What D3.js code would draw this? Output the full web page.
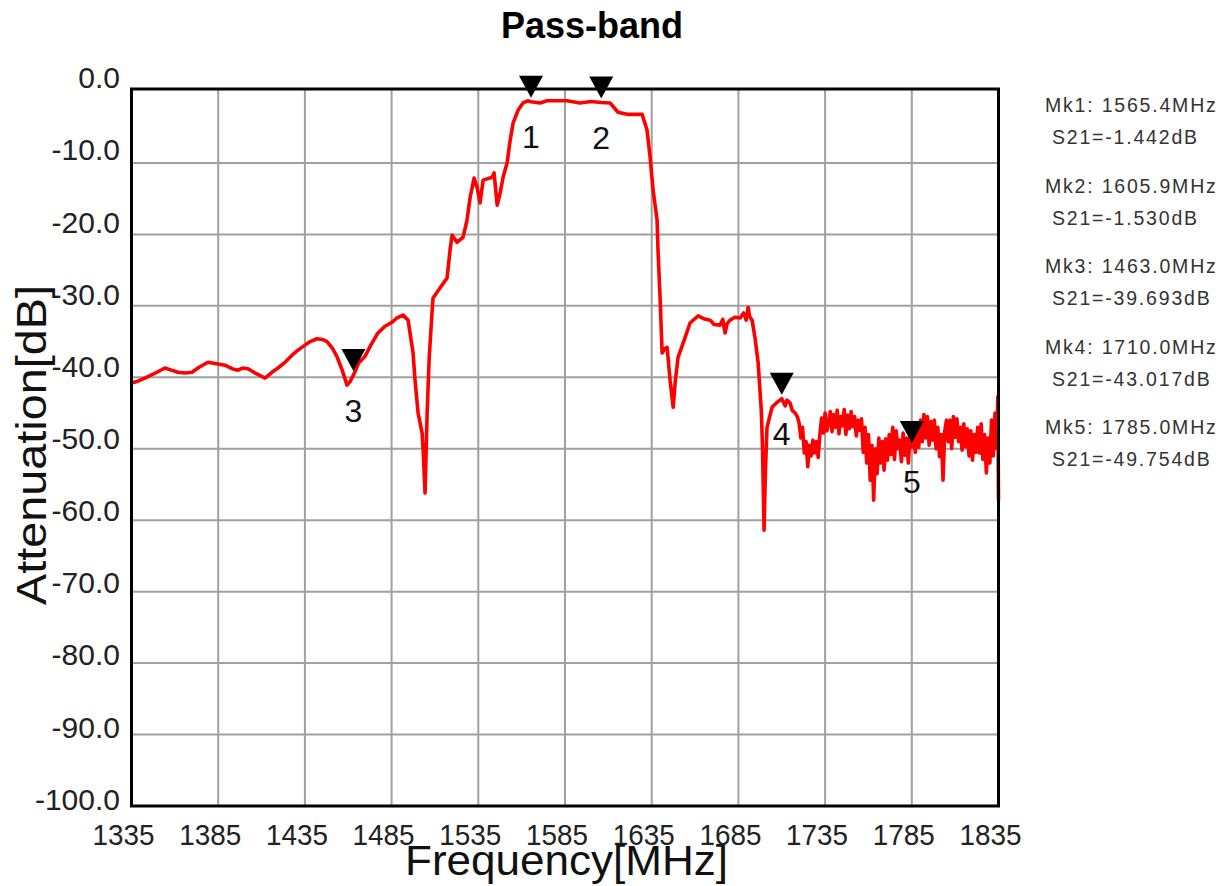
<!DOCTYPE html>
<html><head><meta charset="utf-8">
<script src="https://cdn.jsdelivr.net/npm/d3@7"></script>
<style>body{margin:0;background:#fff;} svg{display:block;}</style>
</head><body>
<svg id="c" width="1226" height="886"></svg>
<script>
const chartTitle = "Pass-band";
const xTitle = "Frequency[MHz]";
const yTitle = "Attenuation[dB]";
const freqTicks = [1335,1385,1435,1485,1535,1585,1635,1685,1735,1785,1835];
const dbTicks = [0,-10,-20,-30,-40,-50,-60,-70,-80,-90,-100];

const freqs = [
1335,1338,1342.8,1348,1354.3,1358,1361.8,1366,1369.9,1374,1379.1,1384,1388.9,1393,1396.4,1399,1402.2,1407,1412,1416,
1419.5,1424,1427.6,1431,1435.1,1438,1442,1445,1447.8,1451,1453.5,1456.5,1459.3,1461,1463,1466,1469.6,1473,1477.1,1481,
1485.2,1488,1491.6,1494.5,1497.4,1498.5,1500.3,1502.6,1503.2,1504.3,1505.5,1506.7,1508.3,1508.9,1512.9,1517.0,1518.7,1519.9,1522.7,1526.2,
1528.5,1530.3,1532.6,1534.3,1536.0,1537.8,1543.0,1544.1,1545.9,1547.6,1549.3,1551.6,1553.4,1555.1,1558.0,1560.8,1563.5,1565.4,1570.6,1574.7,
1586.2,1593.7,1600,1605.9,1611.0,1615.6,1620.8,1626.6,1629.5,1632.3,1634.1,1635.8,1638.1,1638.7,1639.9,1641.0,1642.5,1643.9,1645.6,1647.4,
1648.5,1650.2,1654.3,1657.1,1661.8,1665,1668.7,1671,1674.4,1676,1677.3,1678.5,1680.2,1683,1686.0,1688,1689.5,1690.6,1691.5,1692.9,
1694.6,1696.4,1698.2,1698.9,1699.8,1700.6,1701.5,1704.4,1707.3,1710.0,1712,1713,1714.8,1716,1717.7,1719,
1720,1721,1722,1723,1724,1725,1726,1727,1728,1729,1730,1731,1732,1733,1734,1735,1736,1737,1738,1739,
1740,1741,1742,1743,1744,1745,1746,1747,1748,1749,1750,1751,1752,1753,1754,1755,1756,1757,1758,1759,
1760,1761,1762,1763,1764,1765,1766,1767,1768,1769,1770,1771,1772,1773,1774,1775,1776,1777,1778,1779,
1780,1781,1782,1783,1784,1785,1786,1787,1788,1789,1790,1791,1792,1793,1794,1795,1796,1797,1798,1799,
1800,1801,1802,1803,1804,1805,1806,1807,1808,1809,1810,1811,1812,1813,1814,1815,1816,1817,1818,1819,
1820,1821,1822,1823,1824,1825,1826,1827,1828,1829,1830,1831,1832,1833,1834,1834.6,1835
];
const s21 = [
-40.8,-40.6,-40.1,-39.5,-38.7,-39.0,-39.3,-39.4,-39.3,-38.6,-37.9,-38.1,-38.3,-38.8,-39.0,-38.7,-38.8,-39.5,-40.1,-39.3,
-38.7,-37.8,-36.9,-36.2,-35.5,-35.0,-34.6,-34.7,-35.0,-36.0,-37.1,-39.0,-41.1,-40.6,-39.7,-38.0,-37.1,-35.5,-33.8,-32.9,
-32.3,-31.7,-31.3,-32.0,-36.6,-40.4,-45.0,-47.8,-50.2,-56.2,-45.0,-37.2,-31.0,-28.9,-27.5,-26.1,-22.2,-20.1,-21.1,-20.4,
-18.0,-14.8,-12.1,-13.4,-15.6,-12.4,-12.0,-11.4,-15.9,-14.2,-12.0,-10.0,-6.8,-4.4,-2.6,-1.6,-1.3,-1.44,-1.6,-1.3,
-1.3,-1.6,-1.4,-1.53,-1.6,-2.9,-3.2,-3.2,-3.2,-5.4,-9.2,-13.8,-18.0,-22.6,-29.2,-36.6,-36.0,-35.8,-40.4,-44.2,
-40.8,-37.2,-34.4,-32.4,-31.4,-31.8,-32.0,-32.6,-32.7,-31.9,-33.8,-32.5,-32.0,-31.6,-31.7,-31.0,-32.0,-30.2,-31.5,-32.0,
-34.5,-38.0,-44.6,-49.7,-61.4,-53.0,-47.0,-44.2,-43.5,-43.0,-44.0,-43.2,-43.6,-44.6,-45.0,-45.5,
-46.4,-48.5,-47.0,-50.6,-49.0,-52.5,-49.5,-51.0,-48.8,-50.6,-49.0,-51.2,-48.0,-45.7,-47.8,-45.0,-47.5,-46.4,-44.8,-47.6,
-45.2,-47.0,-44.6,-47.9,-45.5,-46.8,-44.5,-48.0,-45.3,-47.2,-44.8,-46.9,-45.5,-48.2,-46.0,-47.4,-45.8,-50.5,-47.0,-52.0,
-48.0,-54.4,-49.5,-57.2,-50.0,-53.5,-48.5,-52.0,-49.0,-53.0,-48.6,-51.6,-48.0,-50.8,-47.0,-51.5,-47.5,-50.0,-48.8,-51.8,
-47.8,-50.9,-48.5,-52.0,-48.0,-49.75,-47.5,-50.5,-46.5,-49.8,-46.0,-49.0,-45.2,-48.5,-45.5,-49.5,-46.2,-48.8,-46.0,-50.0,
-47.0,-51.1,-48.0,-54.4,-47.5,-46.0,-49.0,-46.0,-50.0,-45.5,-48.4,-45.8,-49.0,-47.0,-50.2,-46.5,-49.7,-47.2,-51.0,-47.5,
-51.6,-48.0,-50.5,-47.0,-50.6,-46.5,-51.5,-48.0,-53.4,-48.5,-52.0,-46.0,-51.0,-45.0,-50.0,-42.7,-57.2
];

const markerNames = ["1","2","3","4","5"];
const markerFreq = [1565.4, 1605.9, 1463.0, 1710.0, 1785.0];
const markerVal = [-1.442, -1.530, -39.693, -43.017, -49.754];
const legendTop = ["Mk1: 1565.4MHz","Mk2: 1605.9MHz","Mk3: 1463.0MHz","Mk4: 1710.0MHz","Mk5: 1785.0MHz"];
const legendBottom = ["S21=-1.442dB","S21=-1.530dB","S21=-39.693dB","S21=-43.017dB","S21=-49.754dB"];

const FONT = "'Liberation Sans', Arial, sans-serif";
const svg = d3.select("#c");
const x = d3.scaleLinear().domain([1335,1835]).range([131.5,998.5]);
const y = d3.scaleLinear().domain([0,-100]).range([91.5,806]);
const yLab = d3.scaleLinear().domain([0,-100]).range([77.5,799]);

// title
svg.append("text").attr("x",592).attr("y",38).attr("text-anchor","middle")
  .attr("font-family",FONT).attr("font-weight","bold").attr("font-size",36).attr("fill","#000").text(chartTitle);

// grid
const g = svg.append("g");
g.selectAll(".vg").data(freqTicks.slice(1,-1)).join("line")
  .attr("x1",d=>x(d)).attr("x2",d=>x(d)).attr("y1",y(0)-2).attr("y2",y(-100))
  .attr("stroke","#a0a0a0").attr("stroke-width",2);
g.selectAll(".hg").data(dbTicks.slice(1,-1)).join("line")
  .attr("y1",d=>y(d)).attr("y2",d=>y(d)).attr("x1",x(1335)).attr("x2",x(1835))
  .attr("stroke","#a0a0a0").attr("stroke-width",2);

// curve
const pts = freqs.map((f,i)=>[f,s21[i]]);
svg.append("path").datum(pts)
  .attr("d", d3.line().x(d=>x(d[0])).y(d=>y(d[1])))
  .attr("fill","none").attr("stroke","#ff0000").attr("stroke-width",3.6).attr("stroke-linejoin","round");

// frame
svg.append("rect").attr("x",x(1335)).attr("y",y(0)-2.5)
  .attr("width",x(1835)-x(1335)).attr("height",y(-100)-y(0)+2.5)
  .attr("fill","none").attr("stroke","#000").attr("stroke-width",3);

// tick labels
svg.selectAll(".yl").data(dbTicks).join("text")
  .attr("x",120).attr("y",d=>yLab(d)+10.7).attr("text-anchor","end")
  .attr("font-family",FONT).attr("font-size",30).attr("fill","#222")
  .text(d=>d.toFixed(1));
svg.selectAll(".xl").data(freqTicks).join("text")
  .attr("x",d=>x(d)-8).attr("y",845).attr("text-anchor","middle")
  .attr("font-family",FONT).attr("font-size",30).attr("fill","#222")
  .attr("textLength",62).attr("lengthAdjust","spacingAndGlyphs")
  .text(d=>String(d));

// axis titles
svg.append("text").attr("x",566.5).attr("y",875).attr("text-anchor","middle")
  .attr("font-family",FONT).attr("font-size",43).attr("fill","#111")
  .attr("textLength",323).attr("lengthAdjust","spacingAndGlyphs").text(xTitle);
svg.append("text").attr("transform","translate(46,445) rotate(-90)").attr("text-anchor","middle")
  .attr("font-family",FONT).attr("font-size",43).attr("fill","#111")
  .attr("textLength",320).attr("lengthAdjust","spacingAndGlyphs").text(yTitle);

// markers
const mk = svg.append("g");
markerFreq.forEach((f,i)=>{
  const mx = x(f), tip = y(markerVal[i]) - 4;
  mk.append("path").attr("d",`M${mx-12},${tip-22}L${mx+12},${tip-22}L${mx},${tip}Z`).attr("fill","#000");
  mk.append("text").attr("x",mx).attr("y",y(markerVal[i])+35+11.5).attr("text-anchor","middle")
    .attr("font-family",FONT).attr("font-size",32).attr("fill","#111").text(markerNames[i]);
});

// legend
legendTop.forEach((t,i)=>{
  const cy = 105 + i*80.5;
  svg.append("text").attr("x",1045).attr("y",cy+7).attr("font-family",FONT).attr("font-size",19.5)
    .attr("letter-spacing",1.8).attr("fill","#333").text(t);
  svg.append("text").attr("x",1052).attr("y",cy+32+7).attr("font-family",FONT).attr("font-size",19.5)
    .attr("letter-spacing",1.8).attr("fill","#333").text(legendBottom[i]);
});
</script>
</body></html>
